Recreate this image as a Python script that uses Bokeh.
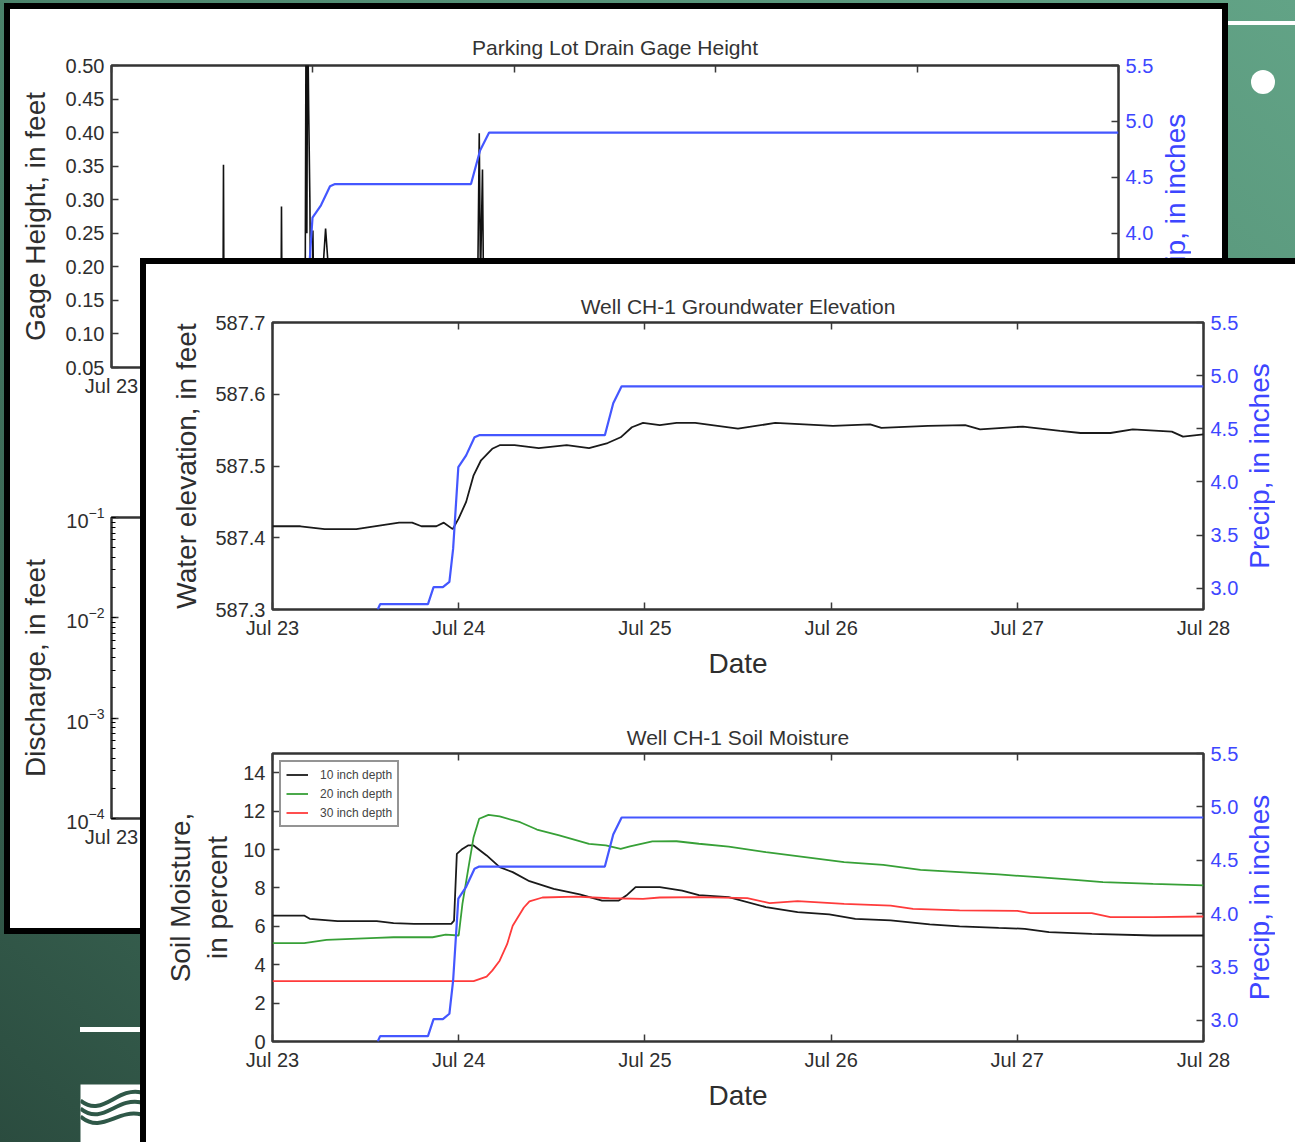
from bokeh.plotting import figure
from bokeh.models import Range1d, LinearAxis, FixedTicker, NumeralTickFormatter, Div
from bokeh.embed import file_html
from bokeh.resources import INLINE

# ---------------- data (x = days after Jul 23 00:00) ----------------
tick_days = [0, 1, 2, 3, 4, 5]
tick_labels = ["Jul 23", "Jul 24", "Jul 25", "Jul 26", "Jul 27", "Jul 28"]
precip_ticks = [3.0, 3.5, 4.0, 4.5, 5.0, 5.5]
gage_ticks = [0.05, 0.10, 0.15, 0.20, 0.25, 0.30, 0.35, 0.40, 0.45, 0.50]
gw_ticks = [587.3, 587.4, 587.5, 587.6, 587.7]
soil_ticks = [0, 2, 4, 6, 8, 10, 12, 14]

# cumulative precipitation, inches
precip_days = [0.565, 0.578, 0.835, 0.865, 0.915, 0.950, 0.970, 0.998, 1.040, 1.085,
               1.110, 1.785, 1.830, 1.875, 5.000]
precip_in = [2.80, 2.85, 2.85, 3.01, 3.01, 3.06, 3.37, 4.14, 4.25, 4.42,
             4.44, 4.44, 4.74, 4.90, 4.90]

# parking lot drain gage height, feet
gage_days = [0.0, 0.552, 0.556, 0.560, 0.840, 0.844, 0.849, 0.960, 0.966, 0.970,
             0.974, 0.979, 0.985, 0.992, 1.000, 1.010, 1.040, 1.063, 1.088, 1.100,
             1.812, 1.821, 1.826, 1.832, 1.842, 1.852, 5.0]
gage_ft = [0.0, 0.0, 0.352, 0.0, 0.0, 0.29, 0.0, 0.0, 0.58, 0.25,
           0.58, 0.436, 0.30, 0.0, 0.254, 0.0, 0.15, 0.257, 0.15, 0.0,
           0.0, 0.25, 0.399, 0.18, 0.345, 0.0, 0.0]

# discharge (no values visible in the picture)
discharge_days = []
discharge_ft = []

# well CH-1 groundwater elevation, feet
gw_days = [0.00, 0.15, 0.28, 0.45, 0.60, 0.68, 0.75, 0.80, 0.88, 0.92,
           0.968, 1.00, 1.04, 1.08, 1.12, 1.18, 1.22, 1.30, 1.43, 1.58,
           1.70, 1.80, 1.87, 1.93, 1.99, 2.08, 2.17, 2.27, 2.50, 2.70,
           3.01, 3.21, 3.27, 3.52, 3.72, 3.80, 4.03, 4.23, 4.34, 4.50,
           4.62, 4.83, 4.89, 5.00]
gw_ft = [587.416, 587.416, 587.412, 587.412, 587.418, 587.421, 587.421, 587.416, 587.416, 587.421,
         587.412, 587.427, 587.450, 587.487, 587.508, 587.524, 587.529, 587.529, 587.525, 587.529,
         587.525, 587.532, 587.540, 587.554, 587.560, 587.557, 587.560, 587.560, 587.552, 587.560,
         587.556, 587.558, 587.553, 587.556, 587.557, 587.551, 587.555, 587.549, 587.546, 587.546,
         587.551, 587.548, 587.541, 587.544]

# soil moisture, percent
soil_days_10 = [0.0, 0.17, 0.20, 0.35, 0.56, 0.65, 0.76, 0.96, 0.975, 0.99,
                1.02, 1.05, 1.08, 1.15, 1.22, 1.29, 1.38, 1.51, 1.65, 1.77,
                1.86, 1.90, 1.95, 2.08, 2.20, 2.29, 2.45, 2.65, 2.82, 2.99,
                3.13, 3.32, 3.53, 3.69, 3.90, 4.04, 4.17, 4.40, 4.73, 5.0]
soil_10 = [6.56, 6.56, 6.39, 6.27, 6.27, 6.17, 6.13, 6.13, 6.30, 9.77,
           10.03, 10.21, 10.21, 9.69, 9.08, 8.82, 8.35, 7.95, 7.66, 7.34,
           7.34, 7.60, 8.04, 8.04, 7.86, 7.62, 7.52, 7.00, 6.74, 6.62,
           6.39, 6.31, 6.10, 6.00, 5.92, 5.87, 5.70, 5.61, 5.52, 5.52]
soil_days_20 = [0.0, 0.17, 0.29, 0.56, 0.65, 0.86, 0.93, 1.00, 1.02, 1.05,
                1.08, 1.11, 1.16, 1.22, 1.33, 1.42, 1.54, 1.70, 1.79, 1.87,
                1.92, 2.04, 2.17, 2.29, 2.45, 2.65, 2.86, 3.07, 3.28, 3.48,
                3.69, 3.90, 4.11, 4.31, 4.46, 4.73, 5.0]
soil_20 = [5.12, 5.12, 5.29, 5.40, 5.43, 5.43, 5.57, 5.52, 7.17, 8.91,
           10.64, 11.60, 11.80, 11.72, 11.42, 11.04, 10.73, 10.29, 10.21, 10.03,
           10.16, 10.42, 10.43, 10.30, 10.15, 9.86, 9.60, 9.34, 9.20, 8.94,
           8.82, 8.70, 8.56, 8.42, 8.30, 8.21, 8.13]
soil_days_30 = [0.0, 1.08, 1.15, 1.18, 1.22, 1.26, 1.29, 1.35, 1.38, 1.45,
                1.63, 1.81, 1.99, 2.08, 2.29, 2.55, 2.67, 2.82, 3.07, 3.32,
                3.44, 3.69, 4.00, 4.07, 4.40, 4.50, 4.73, 5.0]
soil_30 = [3.14, 3.14, 3.38, 3.69, 4.21, 5.07, 6.03, 6.98, 7.30, 7.50,
           7.55, 7.46, 7.43, 7.50, 7.52, 7.47, 7.21, 7.31, 7.17, 7.08,
           6.91, 6.83, 6.80, 6.69, 6.69, 6.48, 6.48, 6.51]
soil_names = ["10 inch depth", "20 inch depth", "30 inch depth"]

# ---------------- styles ----------------
FONT = "Liberation Sans"
INK = "#2e2e2e"
BLUE_TXT = "#3d46ff"
PRECIP_COLOR = "#4457ff"
DARK_GREEN = "#2f5848"


def place(left, top):
    return {"position": "absolute", "left": f"{left}px", "top": f"{top}px"}


def style_axis(ax, color=INK, tick_size="20px", label_size="28px", standoff=10):
    ax.major_tick_in = 7
    ax.major_tick_out = 0
    ax.minor_tick_in = 0
    ax.minor_tick_out = 0
    ax.major_tick_line_color = "#3a3a3a"
    ax.major_tick_line_width = 1.5
    ax.axis_line_color = None
    ax.major_label_text_font = FONT
    ax.major_label_text_font_size = tick_size
    ax.major_label_text_color = color
    ax.major_label_standoff = 7
    ax.axis_label_text_font = FONT
    ax.axis_label_text_font_size = label_size
    ax.axis_label_text_font_style = "normal"
    ax.axis_label_text_color = color
    ax.axis_label_standoff = standoff


def chart(left, top, width, height, borders, y_range, title=None, y_axis_type="linear",
          title_standoff=9):
    l, r, t, b = borders
    kw = {} if title is None else {"title": title}
    p = figure(width=width, height=height, x_range=Range1d(0, 5), y_range=y_range,
               y_axis_type=y_axis_type, output_backend="svg", toolbar_location=None,
               min_border_left=l, min_border_right=r, min_border_top=t, min_border_bottom=b,
               styles=place(left, top), margin=0, **kw)
    p.background_fill_color = "white"
    p.border_fill_color = "white"
    p.outline_line_color = "#333333"
    p.outline_line_width = 2.5
    p.xgrid.visible = False
    p.ygrid.visible = False
    if title is not None:
        p.title.text_font = FONT
        p.title.text_font_size = "21px"
        p.title.text_font_style = "normal"
        p.title.text_color = "#333333"
        p.title.align = "center"
        p.title.standoff = title_standoff
    xa = p.xaxis[0]
    xa.ticker = FixedTicker(ticks=tick_days)
    xa.major_label_overrides = {d: s for d, s in zip(tick_days, tick_labels)}
    style_axis(xa, standoff=6)
    style_axis(p.yaxis[0], standoff=12)
    return p


def add_top(p):
    ax = LinearAxis(ticker=FixedTicker(ticks=tick_days))
    style_axis(ax)
    ax.major_label_text_font_size = "1px"
    ax.major_label_text_color = None
    ax.major_label_standoff = 0
    p.add_layout(ax, "above")


def add_precip(p):
    p.extra_y_ranges = {"precip": Range1d(2.8, 5.5)}
    ax = LinearAxis(y_range_name="precip", ticker=FixedTicker(ticks=precip_ticks),
                    formatter=NumeralTickFormatter(format="0.0"))
    style_axis(ax, color=BLUE_TXT)
    p.add_layout(ax, "right")
    p.line(precip_days, precip_in, y_range_name="precip", line_color=PRECIP_COLOR,
           line_width=2.2)


def precip_title(left, top, height):
    """Right-hand axis title, reading bottom-to-top, drawn as a left-axis label of a
    transparent strip placed beside the chart's right axis."""
    h = figure(width=40, height=height, x_range=Range1d(0, 1), y_range=Range1d(2.8, 5.5),
               output_backend="svg", toolbar_location=None, min_border_left=39,
               min_border_right=0, min_border_top=0, min_border_bottom=0,
               x_axis_location=None, styles=place(left, top), margin=0)
    h.background_fill_alpha = 0
    h.border_fill_alpha = 0
    h.outline_line_color = None
    h.xgrid.visible = False
    h.ygrid.visible = False
    ya = h.yaxis[0]
    ya.ticker = FixedTicker(ticks=[])
    style_axis(ya, color=BLUE_TXT, standoff=0)
    ya.major_tick_in = 0
    ya.major_label_standoff = 0
    ya.axis_label = "Precip, in inches"
    return h


# ---------------- background / panels ----------------
bg = Div(text="", width=1295, height=1142, margin=0,
         styles={**place(0, 0),
                 "background": "linear-gradient(to bottom left, #62a386 0%, #4e886f 45%, #2b4c3f 100%)"})
line_tr = Div(text="", width=67, height=4, margin=0,
              styles={**place(1228, 21), "background": "white"})
dot_tr = Div(text="", width=24, height=24, margin=0,
             styles={**place(1251, 70), "background": "white", "border-radius": "50%"})
line_bl = Div(text="", width=61, height=5, margin=0,
              styles={**place(80, 1027), "background": "white"})
back_panel = Div(text="", width=1224, height=931, margin=0,
                 styles={**place(4, 3), "background": "white", "border": "6px solid black",
                         "box-sizing": "border-box"})
front_panel = Div(text="", width=1155, height=884, margin=0,
                  styles={**place(140, 258), "background": "white",
                          "border-left": "6px solid black", "border-top": "6px solid black",
                          "box-sizing": "border-box"})

# logo
logo = figure(width=61, height=58, x_range=Range1d(0, 61), y_range=Range1d(58, 0),
              output_backend="svg", toolbar_location=None, min_border=0,
              x_axis_location=None, y_axis_location=None, styles=place(80, 1084), margin=0)
logo.background_fill_color = "white"
logo.border_fill_color = "white"
logo.outline_line_color = None
logo.xgrid.visible = False
logo.ygrid.visible = False
logo.bezier(x0=[0, 0, 0], y0=[16, 24, 32], x1=[61, 61, 61], y1=[8, 18, 30],
            cx0=[22, 22, 22], cy0=[34, 42, 50], cx1=[36, 36, 36], cy1=[2, 12, 24],
            line_color=DARK_GREEN, line_width=4)

# ---------------- back panel charts ----------------
gage = chart(10, 9, 1212, 400, (101, 104, 56, 42), Range1d(0.05, 0.50),
             title="Parking Lot Drain Gage Height", title_standoff=14)
gage.yaxis[0].ticker = FixedTicker(ticks=gage_ticks)
gage.yaxis[0].formatter = NumeralTickFormatter(format="0.00")
gage.yaxis[0].axis_label = "Gage Height, in feet"
add_top(gage)
gage.line(gage_days, gage_ft, line_color="#111111", line_width=1.6)
add_precip(gage)
gage_ptitle = precip_title(1151, 65, 302)

discharge = chart(10, 410, 1212, 450, (101, 104, 107, 42), Range1d(1e-4, 1e-1),
                  y_axis_type="log")
dy = discharge.yaxis[0]
dy.axis_label = "Discharge, in feet"
dy.minor_tick_in = 4
dy.minor_tick_out = 0
discharge.line(discharge_days, discharge_ft, line_color="#111111", line_width=1.6)

# ---------------- front panel charts ----------------
gw = chart(146, 264, 1149, 431, (126, 92, 58, 86), Range1d(587.3, 587.7),
           title="Well CH-1 Groundwater Elevation")
gw.yaxis[0].ticker = FixedTicker(ticks=gw_ticks)
gw.yaxis[0].formatter = NumeralTickFormatter(format="0.0")
gw.yaxis[0].axis_label = "Water elevation, in feet"
gw.yaxis[0].axis_label_standoff = 10
gw.xaxis[0].axis_label = "Date"
add_top(gw)
gw.line(gw_days, gw_ft, line_color="#1a1a1a", line_width=1.8)
add_precip(gw)
gw_ptitle = precip_title(1235, 322, 287)

soil = chart(146, 695, 1149, 446, (126, 92, 58, 100), Range1d(0, 15),
             title="Well CH-1 Soil Moisture")
soil.yaxis[0].ticker = FixedTicker(ticks=soil_ticks)
soil.yaxis[0].axis_label = "Soil Moisture,\nin percent"
soil.yaxis[0].axis_label_standoff = 7
soil.xaxis[0].axis_label = "Date"
add_top(soil)
soil.line(soil_days_10, soil_10, line_color="#1a1a1a", line_width=1.8, legend_label=soil_names[0])
soil.line(soil_days_20, soil_20, line_color="#37a037", line_width=1.8, legend_label=soil_names[1])
soil.line(soil_days_30, soil_30, line_color="#ff3b3b", line_width=1.8, legend_label=soil_names[2])
add_precip(soil)
soil_ptitle = precip_title(1235, 753, 288)
lg = soil.legend[0]
lg.location = "top_left"
lg.margin = 7
lg.padding = 5
lg.spacing = 4
lg.glyph_width = 22
lg.glyph_height = 15
lg.label_height = 15
lg.label_standoff = 12
lg.label_text_font = FONT
lg.label_text_font_size = "12px"
lg.label_text_color = "#444444"
lg.border_line_color = "#2a2a2a"
lg.border_line_width = 2
lg.background_fill_alpha = 1.0

roots = [bg, line_tr, dot_tr, line_bl, logo, back_panel, gage, gage_ptitle, discharge,
         front_panel, gw, gw_ptitle, soil, soil_ptitle]

open("out.html", "w").write(file_html(roots, INLINE))
